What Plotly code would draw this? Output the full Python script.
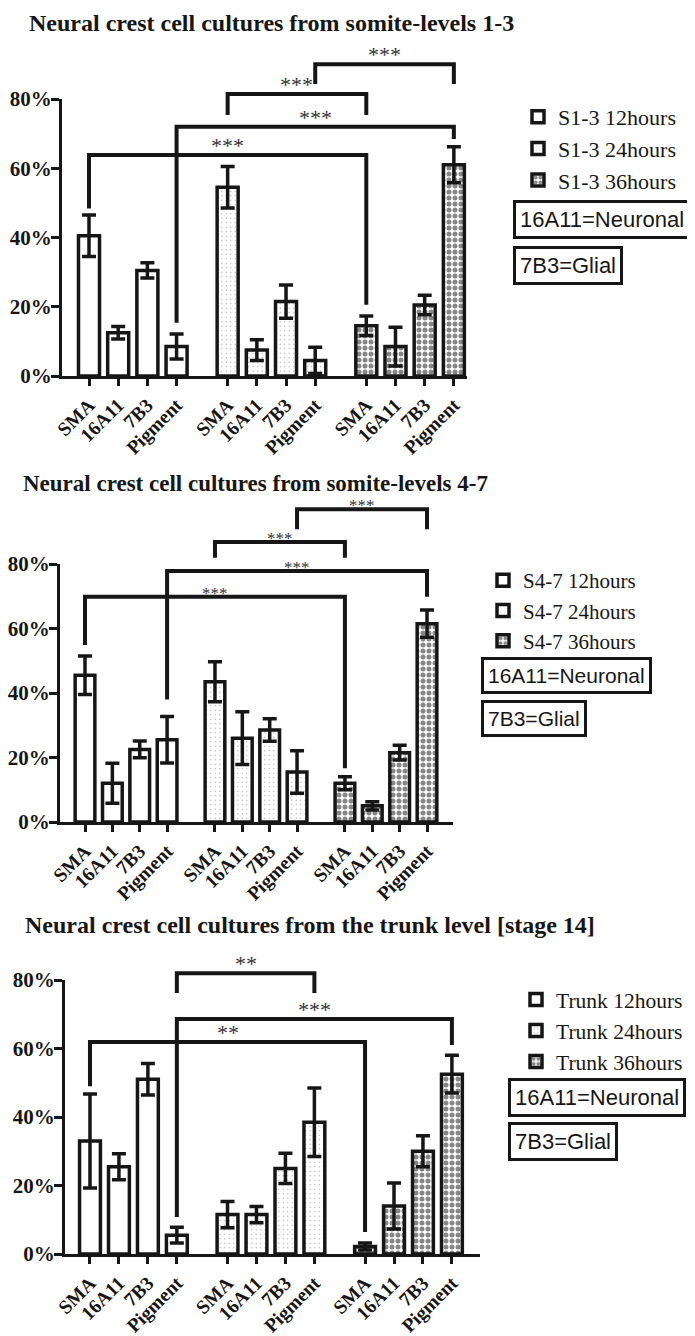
import plotly.graph_objects as go

# page body has an 8px margin -> figure is drawn 8px in from the top-left
OFF = 8
W, H = 695 - OFF, 1336 - OFF

markers = ["SMA", "16A11", "7B3", "Pigment"]
group_starts = [0, 4.75, 9.5]

# ---- Panel 1: somite-levels 1-3 ----
p1_names = ["S1-3 12hours", "S1-3 24hours", "S1-3 36hours"]
p1_vals = [[40.5, 12.5, 30.5, 8.5], [54.5, 7.5, 21.5, 4.5], [14.5, 8.5, 20.5, 61.0]]
p1_errs = [[6.0, 1.8, 2.2, 3.6], [6.0, 3.0, 4.8, 3.8], [2.8, 5.6, 2.8, 5.2]]
p1_brackets = [  # (from bar, to bar, level, left end, right end, label)
    (7, 11, 90.0, 84.3, 84.3, "***"),
    (4, 8, 81.4, 75.4, 75.4, "***"),
    (3, 11, 72.0, 15.4, 68.4, "***"),
    (0, 8, 63.8, 48.4, 20.6, "***"),
]

# ---- Panel 2: somite-levels 4-7 ----
p2_names = ["S4-7 12hours", "S4-7 24hours", "S4-7 36hours"]
p2_vals = [[45.5, 12.0, 22.5, 25.5], [43.5, 26.0, 28.5, 15.5], [12.0, 5.0, 21.5, 61.5]]
p2_errs = [[6.0, 6.2, 2.6, 7.2], [6.2, 8.2, 3.5, 6.6], [2.0, 1.3, 2.3, 4.2]]
p2_brackets = [
    (7, 11, 97.0, 90.8, 90.8, "***"),
    (4, 8, 86.8, 81.9, 81.9, "***"),
    (3, 11, 77.8, 38.0, 69.8, "***"),
    (0, 8, 69.8, 54.9, 16.7, "***"),
]

# ---- Panel 3: trunk level ----
p3_names = ["Trunk 12hours", "Trunk 24hours", "Trunk 36hours"]
p3_vals = [[33.0, 25.5, 51.0, 5.5], [11.5, 11.5, 25.0, 38.5], [2.2, 14.0, 30.0, 52.5]]
p3_errs = [[13.7, 3.8, 4.6, 2.3], [3.8, 2.4, 4.4, 10.0], [1.0, 6.7, 4.5, 5.5]]
p3_brackets = [
    (3, 7, 82.0, 76.2, 76.2, "**"),
    (3, 11, 68.6, 10.8, 61.0, "***"),
    (0, 8, 61.9, 49.0, 6.4, "**"),
]

titles = [
    "Neural crest cell cultures from somite-levels 1-3",
    "Neural crest cell cultures from somite-levels 4-7",
    "Neural crest cell cultures from the trunk level [stage 14]",
]
y_ticks = [0, 20, 40, 60, 80]
y_ticktext = ["0%", "20%", "40%", "60%", "80%"]
y_max = 80

# ---- layout geometry (reference pixels) ----
panels = [
    dict(names=p1_names, vals=p1_vals, errs=p1_errs, br=p1_brackets, star_fs=22, star_shift=-5,
         xl=62, xr=467, y0=376, y80=99, ytop=47, xrange=[-0.925, 12.95], yr=95.0,
         title_x=27, title_y=23, title_fs=24, leg_x=518, leg_y=96, leg_fs=22,
         box1=(513, 200, 22), box2=(513, 246, 22)),
    dict(names=p2_names, vals=p2_vals, errs=p2_errs, br=p2_brackets, star_fs=17, star_shift=-8,
         xl=60, xr=453, y0=822, y80=564, ytop=493, xrange=[-0.914, 13.45], yr=102.0,
         title_x=21, title_y=483, title_fs=23, leg_x=483, leg_y=560, leg_fs=21,
         box1=(481, 657, 21), box2=(481, 700, 21)),
    dict(names=p3_names, vals=p3_vals, errs=p3_errs, br=p3_brackets, star_fs=22, star_shift=-5,
         xl=65, xr=480, y0=1254, y80=980, ytop=953, xrange=[-0.863, 13.47], yr=87.9,
         title_x=23, title_y=925, title_fs=24, leg_x=516, leg_y=979, leg_fs=21.5,
         box1=(508, 1078, 22), box2=(508, 1122, 22)),
]


def px(xr):
    return (xr - OFF) / W


def py(yr):
    return 1 - (yr - OFF) / H


positions = [g + i for g in group_starts for i in range(4)]
tick_labels = markers * 3

patterns = [
    dict(shape=""),
    dict(shape=".", fgcolor="#444", bgcolor="white", size=4.5, solidity=0.07, fillmode="overlay"),
    dict(shape=".", fgcolor="#0d0d0d", bgcolor="white", size=6, solidity=0.55, fillmode="overlay"),
]

INK = "#161616"
SERIF = "Liberation Serif"
SANS = "Liberation Sans"

fig = go.Figure()
shapes = []
annotations = []
layout_axes = {}

for k, p in enumerate(panels):
    sfx = "" if k == 0 else str(k + 1)
    bsfx = str(k + 4)
    xa, ya = "x" + sfx, "y" + sfx
    xb, yb = "x" + bsfx, "y" + bsfx
    legname = "legend" + sfx
    for s in range(3):
        fig.add_trace(go.Bar(
            x=positions[4 * s:4 * s + 4],
            y=p["vals"][s],
            name=p["names"][s],
            width=0.72,
            marker=dict(color="white", line=dict(color=INK, width=3.5), pattern=patterns[s]),
            error_y=dict(type="data", array=p["errs"][s], color=INK, thickness=3.5, width=7),
            xaxis=xa, yaxis=ya, legend=legname,
        ))
    # empty helper trace so the bracket overlay subplot exists
    fig.add_trace(go.Scatter(x=[], y=[], xaxis=xb, yaxis=yb, showlegend=False, hoverinfo="skip"))

    dom_x = [px(p["xl"]), px(p["xr"])]
    layout_axes["xaxis" + sfx] = dict(
        domain=dom_x, range=p["xrange"], anchor=ya, automargin=False,
        tickvals=positions, ticktext=tick_labels, tickangle=-45,
        showline=True, linecolor=INK, linewidth=3,
        ticks="outside", ticklen=7, tickwidth=3, tickcolor=INK,
        showgrid=False, zeroline=False,
        tickfont=dict(family=SERIF, size=19.5, color=INK, weight="bold"),
    )
    layout_axes["yaxis" + sfx] = dict(
        domain=[py(p["y0"]), py(p["y80"])], range=[0, y_max], anchor=xa, automargin=False,
        tickvals=y_ticks, ticktext=y_ticktext,
        showline=True, linecolor=INK, linewidth=3,
        ticks="outside", ticklen=8, tickwidth=3, tickcolor=INK, ticklabelstandoff=-5,
        showgrid=False, zeroline=False,
        tickfont=dict(family=SERIF, size=21, color=INK, weight="bold"),
    )
    # invisible overlay axes spanning the bracket area, same scale as the data axes
    layout_axes["xaxis" + bsfx] = dict(domain=dom_x, range=p["xrange"], anchor=yb,
                                       visible=False, automargin=False)
    layout_axes["yaxis" + bsfx] = dict(domain=[py(p["y0"]), py(p["ytop"])], range=[0, p["yr"]],
                                       anchor=xb, visible=False, automargin=False)
    # significance brackets
    for (a, b, lvl, le, re, lab) in p["br"]:
        xa0, xb0 = positions[a], positions[b]
        shapes.append(dict(type="path", xref=xb, yref=yb,
                           path=f"M {xa0},{le} L {xa0},{lvl} L {xb0},{lvl} L {xb0},{re}",
                           line=dict(color=INK, width=4)))
        annotations.append(dict(xref=xb, yref=yb, x=(xa0 + xb0) / 2, y=lvl,
                                text=lab, showarrow=False, yanchor="bottom", yshift=p["star_shift"],
                                font=dict(family=SERIF, size=p["star_fs"], color="#333")))
    # title
    annotations.append(dict(xref="paper", yref="paper", x=px(p["title_x"]), y=py(p["title_y"]),
                            xanchor="left", yanchor="middle", showarrow=False, text=titles[k],
                            font=dict(family=SERIF, size=p["title_fs"], color=INK, weight="bold")))
    # info boxes
    for txt, (bx, by, fs) in (("16A11=Neuronal", p["box1"]), ("7B3=Glial", p["box2"])):
        annotations.append(dict(xref="paper", yref="paper", x=px(bx), y=py(by),
                                xanchor="left", yanchor="top", showarrow=False, text=txt,
                                bordercolor=INK, borderwidth=3, borderpad=4, bgcolor="white",
                                font=dict(family=SANS, size=fs, color=INK)))
    layout_axes[legname] = dict(
        x=px(p["leg_x"]), y=py(p["leg_y"]), xanchor="left", yanchor="top",
        bgcolor="rgba(0,0,0,0)", borderwidth=0, traceorder="normal",
        font=dict(family=SERIF, size=p["leg_fs"], color=INK),
    )

fig.update_layout(
    template="none",
    width=W, height=H,
    margin=dict(l=0, r=0, t=0, b=0, autoexpand=False),
    paper_bgcolor="white", plot_bgcolor="rgba(0,0,0,0)",
    showlegend=True, barmode="overlay",
    shapes=shapes, annotations=annotations,
    **layout_axes,
)

fig.write_html("out.html")
